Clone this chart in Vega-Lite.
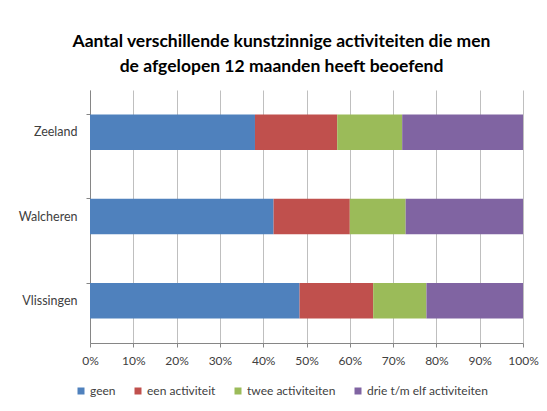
{
  "$schema": "https://vega.github.io/schema/vega-lite/v6.json",
  "autosize": "none",
  "width": 433,
  "height": 253,
  "padding": {"left": 90, "top": 90, "right": 24, "bottom": 68},
  "background": "white",
  "title": {
    "text": ["Aantal verschillende kunstzinnige activiteiten die men", "de afgelopen 12 maanden heeft beoefend"],
    "font": "Lato",
    "fontSize": 17.5,
    "fontWeight": "bold",
    "color": "#000000",
    "lineHeight": 25,
    "anchor": "middle",
    "dx": -25,
    "offset": 15
  },
  "data": {
    "values": [
      {"regio": "Zeeland", "categorie": "geen", "nr": 1, "pct": 38.1},
      {"regio": "Zeeland", "categorie": "een activiteit", "nr": 2, "pct": 19.0},
      {"regio": "Zeeland", "categorie": "twee activiteiten", "nr": 3, "pct": 15.0},
      {"regio": "Zeeland", "categorie": "drie t/m elf activiteiten", "nr": 4, "pct": 27.9},
      {"regio": "Walcheren", "categorie": "geen", "nr": 1, "pct": 42.4},
      {"regio": "Walcheren", "categorie": "een activiteit", "nr": 2, "pct": 17.6},
      {"regio": "Walcheren", "categorie": "twee activiteiten", "nr": 3, "pct": 12.9},
      {"regio": "Walcheren", "categorie": "drie t/m elf activiteiten", "nr": 4, "pct": 27.1},
      {"regio": "Vlissingen", "categorie": "geen", "nr": 1, "pct": 48.4},
      {"regio": "Vlissingen", "categorie": "een activiteit", "nr": 2, "pct": 17.0},
      {"regio": "Vlissingen", "categorie": "twee activiteiten", "nr": 3, "pct": 12.3},
      {"regio": "Vlissingen", "categorie": "drie t/m elf activiteiten", "nr": 4, "pct": 22.3}
    ]
  },
  "mark": {"type": "bar"},
  "encoding": {
    "y": {
      "field": "regio",
      "type": "nominal",
      "sort": ["Zeeland", "Walcheren", "Vlissingen"],
      "scale": {"paddingInner": 0.58, "paddingOuter": 0.29},
      "axis": {
        "title": null,
        "bandPosition": 0,
        "ticks": true,
        "tickSize": 4,
        "tickColor": "#868686",
        "domainColor": "#868686",
        "labelFont": "Lato",
        "labelFontSize": 12.5,
        "labelColor": "#404040",
        "labelPadding": 9,
        "grid": false
      }
    },
    "x": {
      "field": "pct",
      "type": "quantitative",
      "stack": "normalize",
      "scale": {"domain": [0, 1], "nice": false},
      "axis": {
        "title": null,
        "format": ".0%",
        "tickCount": 10,
        "grid": true,
        "gridColor": "#bfbfbf",
        "gridOpacity": 1,
        "gridWidth": 1,
        "tickSize": 4,
        "tickColor": "#868686",
        "domainColor": "#868686",
        "labelFlush": false,
        "labelOverlap": false,
        "labelFont": "Lato",
        "labelFontSize": 12,
        "labelColor": "#404040",
        "labelPadding": 8
      }
    },
    "order": {"field": "nr", "type": "quantitative", "sort": "ascending"},
    "color": {
      "field": "categorie",
      "type": "nominal",
      "sort": ["geen", "een activiteit", "twee activiteiten", "drie t/m elf activiteiten"],
      "scale": {
        "domain": ["geen", "een activiteit", "twee activiteiten", "drie t/m elf activiteiten"],
        "range": ["#4F81BD", "#C0504D", "#9BBB59", "#8064A2"]
      },
      "legend": {
        "title": null,
        "orient": "none",
        "direction": "horizontal",
        "columns": 4,
        "legendX": -15,
        "legendY": 295,
        "symbolType": "square",
        "symbolSize": 49,
        "symbolStrokeWidth": 0,
        "labelFont": "Lato",
        "labelFontSize": 12,
        "labelColor": "#404040",
        "labelOffset": 3,
        "columnPadding": 16
      }
    }
  },
  "config": {"view": {"stroke": null}}
}
